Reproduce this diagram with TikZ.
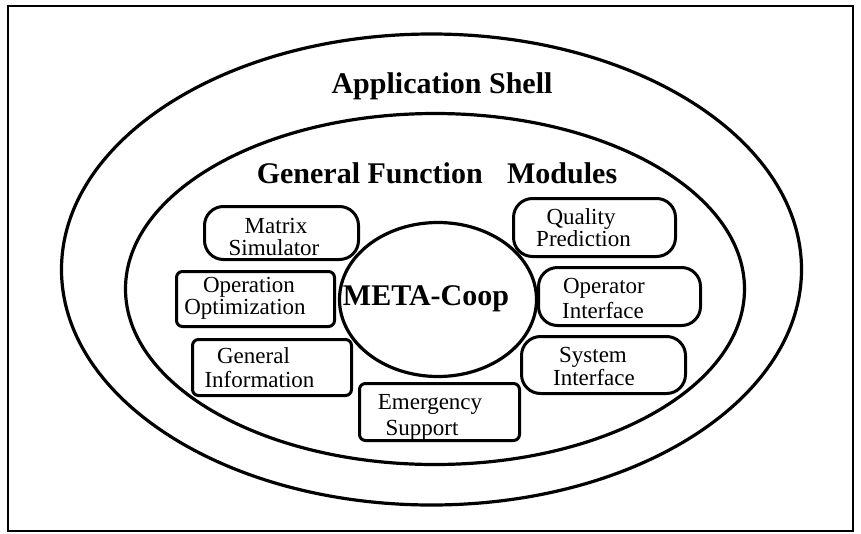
\documentclass[tikz,border=0pt]{standalone}
\usepackage{fontspec}
\setmainfont{Liberation Serif}
\usetikzlibrary{shapes.geometric}
\begin{document}
\begin{tikzpicture}[x=1pt,y=-1pt,
  ring/.style={ellipse, draw, line width=3.2pt, inner sep=0pt},
  pill/.style={draw, line width=3pt, rounded corners=19pt, inner sep=0pt},
  sqbox/.style={draw, line width=3pt, rounded corners=6pt, inner sep=0pt},
  title/.style={font=\fontsize{30}{34}\selectfont\bfseries, anchor=base, inner sep=0pt},
  lbl/.style={font=\fontsize{23}{26}\selectfont, anchor=base, inner sep=0pt}]
\useasboundingbox (0,0) rectangle (861,533);
\node[draw, line width=2pt, minimum width=845pt, minimum height=525pt, inner sep=0pt] (frame) at (430.5,268.5) {};
% ellipses
\node[ring, minimum width=740pt, minimum height=471pt] (shell) at (431.5,269.5) {};
\node[ring, minimum width=619pt, minimum height=351pt] (gfm) at (435,289) {};
\node[ring, minimum width=197pt, minimum height=154pt] (core) at (438,299.5) {};
% titles
\node[title] (shellt) at (442,93) {Application Shell};
\node[title] (gfmt) at (437,183) {General Function\hspace{17pt} Modules};
\node[title] (coret) at (426,305) {META-Coop};
% boxes
\node[pill, minimum width=154pt, minimum height=53pt] (ms) at (281.5,233) {};
\node[sqbox, minimum width=158pt, minimum height=55pt] (oo) at (255.5,299) {};
\node[sqbox, minimum width=159pt, minimum height=56pt] (gi) at (272,367.5) {};
\node[pill, minimum width=162pt, minimum height=58pt] (qp) at (594.5,227.5) {};
\node[pill, minimum width=162pt, minimum height=58pt] (oi) at (619.5,296.5) {};
\node[pill, minimum width=164pt, minimum height=57pt] (si) at (603.5,365) {};
\node[sqbox, minimum width=160pt, minimum height=57pt] (es) at (439.5,412) {};
% box labels
\node[lbl] (ms1) at (276,233) {Matrix};
\node[lbl] (ms2) at (274,255) {Simulator};
\node[lbl] (oo1) at (249,292) {Operation};
\node[lbl] (oo2) at (245,314) {Optimization};
\node[lbl] (gi1) at (253.5,363) {General};
\node[lbl] (gi2) at (259.5,387) {Information};
\node[lbl] (qp1) at (581,224) {Quality};
\node[lbl] (qp2) at (583.5,246) {Prediction};
\node[lbl] (oi1) at (604,293) {Operator};
\node[lbl] (oi2) at (603,318) {Interface};
\node[lbl] (si1) at (593,362) {System};
\node[lbl] (si2) at (594,385) {Interface};
\node[lbl] (es1) at (430,409) {Emergency};
\node[lbl] (es2) at (422,435) {Support};
\end{tikzpicture}
\end{document}
